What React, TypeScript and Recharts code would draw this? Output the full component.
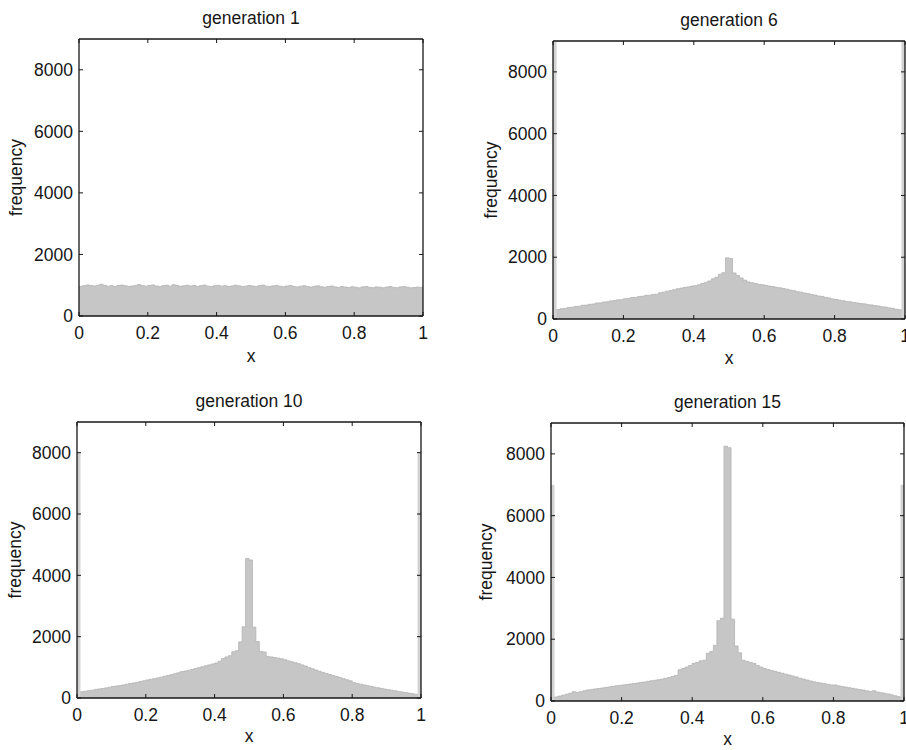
import React from 'react';
import { ComposedChart, Area, XAxis, YAxis } from 'recharts';

const binCount = 100;
const xTicks = [0, 0.2, 0.4, 0.6, 0.8, 1];
const yTicks = [0, 2000, 4000, 6000, 8000];
const titles = ['generation 1', 'generation 6', 'generation 10', 'generation 15'];

// bin counts, 100 bins of width 0.01 on [0, 1]
const gen1 = [
  960, 985, 1010, 990, 975, 1000, 1030, 995, 970, 985,
  955, 990, 1005, 980, 960, 975, 995, 1020, 985, 970,
  990, 1010, 975, 960, 985, 1000, 970, 1015, 990, 965,
  980, 1000, 975, 990, 960, 985, 1005, 970, 955, 980,
  995, 970, 985, 960, 975, 1000, 980, 955, 970, 990,
  975, 960, 985, 1005, 970, 955, 980, 995, 965, 950,
  975, 990, 960, 945, 970, 985, 955, 940, 965, 980,
  950, 935, 960, 975, 945, 930, 955, 940, 925, 950,
  935, 915, 945, 960, 930, 920, 945, 935, 915, 940,
  955, 930, 920, 945, 960, 935, 915, 925, 940, 930,
];

const gen6 = [
  290, 305, 335, 345, 370, 380, 405, 415, 445, 450,
  475, 485, 515, 520, 550, 555, 585, 595, 620, 625,
  655, 665, 695, 700, 725, 735, 765, 770, 795, 805,
  850, 870, 900, 920, 950, 980, 1000, 1025, 1040, 1065,
  1080, 1105, 1150, 1185, 1230, 1300, 1355, 1450, 1500, 1980,
  1960, 1490, 1410, 1330, 1260, 1200, 1175, 1150, 1125, 1110,
  1090, 1065, 1050, 1025, 1010, 985, 965, 935, 915, 885,
  870, 840, 820, 795, 775, 745, 730, 700, 680, 650,
  630, 605, 590, 565, 555, 535, 520, 500, 490, 465,
  455, 435, 420, 395, 385, 360, 345, 315, 300, 275,
];

const gen10 = [
  190, 205, 220, 240, 255, 280, 295, 310, 330, 350,
  375, 390, 405, 425, 450, 470, 490, 510, 540, 560,
  590, 610, 630, 655, 680, 710, 735, 760, 790, 820,
  860, 880, 905, 930, 960, 990, 1020, 1050, 1080, 1110,
  1140, 1200, 1290, 1340, 1380, 1510, 1540, 1830, 2320, 4550,
  4500, 2310, 1840, 1520, 1500, 1350, 1340, 1320, 1300, 1280,
  1250, 1210, 1180, 1150, 1120, 1080, 1040, 990, 950, 910,
  870, 835, 800, 765, 730, 700, 665, 630, 595, 560,
  500, 475, 450, 425, 400, 380, 355, 335, 315, 290,
  270, 255, 235, 215, 195, 180, 160, 140, 120, 95,
];

const gen15 = [
  90, 130, 160, 190, 220, 250, 300, 280, 300, 330,
  360, 375, 390, 405, 420, 440, 455, 470, 490, 505,
  520, 535, 550, 565, 580, 600, 615, 635, 655, 670,
  690, 710, 735, 760, 790, 830, 1010, 1050, 1100, 1150,
  1220, 1250, 1300, 1320, 1545, 1600, 1800, 2600, 2680, 8250,
  8200, 2650, 1780, 1560, 1320, 1280, 1250, 1220, 1150, 1100,
  1050, 1020, 990, 960, 930, 900, 870, 840, 810, 780,
  740, 710, 680, 650, 620, 600, 580, 560, 540, 520,
  520, 490, 470, 450, 430, 410, 390, 370, 355, 330,
  310, 330, 290, 270, 250, 230, 200, 170, 140, 100,
];

// counts piled up exactly at x = 0 and x = 1
const boundaryCounts = [0, 9000, 8000, 7000];

const FONT = '"Liberation Sans", Arial, Helvetica, sans-serif';
const INK = '#161616';
const FS = 17.5;
const edgeWidth = 0.01;

const layout = [
  { left: 0, top: 0, h: 372, x0: 79, x1: 423, y0: 39, y1: 316, labelX: 16, xLabelBase: 362 },
  { left: 453, top: 0, h: 372, x0: 553, x1: 905, y0: 41, y1: 319, labelX: 491, xLabelBase: 364 },
  { left: 0, top: 372, h: 378, x0: 77, x1: 421, y0: 422, y1: 698, labelX: 15, xLabelBase: 742 },
  { left: 453, top: 372, h: 378, x0: 551, x1: 904, y0: 423, y1: 701, labelX: 486, xLabelBase: 745 },
];

function buildRows(counts: number[], boundary: number) {
  const rows: any[] = counts.map((c, i) => ({ x: i / binCount, count: c }));
  rows.push({ x: 1, count: counts[counts.length - 1] });
  if (boundary > 0) {
    rows[0].edge = boundary;
    rows.splice(1, 0, { x: edgeWidth, edge: 0 });
    rows.splice(rows.length - 1, 0, { x: 1 - edgeWidth, edge: boundary });
    rows[rows.length - 1].edge = boundary;
  }
  return rows;
}

const Panel = ({ counts, boundary, title, box }: any) => {
  const W = 453;
  const yAxisW = box.x0 - box.left;
  const margin = {
    left: 0,
    right: box.left + W - box.x1 - 1,
    top: box.y0 - box.top - 1,
    bottom: box.top + box.h - box.y1 - 46,
  };
  const data = buildRows(counts, boundary);
  const axisLine = { stroke: INK, strokeWidth: 1.3 };
  const tickLine = { stroke: INK, strokeWidth: 1 };
  const tick = { fill: INK, fontSize: FS };
  return (
    <div style={{ position: 'absolute', left: box.left, top: box.top }}>
      <ComposedChart width={W} height={box.h} data={data} margin={margin}>
        <Area
          type="stepAfter"
          dataKey="count"
          fill="#c6c6c6"
          fillOpacity={1}
          stroke="#b2b2b2"
          strokeWidth={0.8}
          connectNulls
          isAnimationActive={false}
          dot={false}
          activeDot={false}
        />
        {boundary > 0 && (
          <Area
            type="stepAfter"
            dataKey="edge"
            fill="#d2d2d2"
            fillOpacity={1}
            stroke="none"
            connectNulls
            isAnimationActive={false}
            dot={false}
            activeDot={false}
          />
        )}
        {/* invisible copy so the frame axes (top / right) get a scale */}
        <Area
          xAxisId="top"
          yAxisId="right"
          type="stepAfter"
          dataKey="count"
          fill="none"
          stroke="none"
          connectNulls
          isAnimationActive={false}
          dot={false}
          activeDot={false}
        />
        <XAxis
          dataKey="x"
          type="number"
          domain={[0, 1]}
          ticks={xTicks}
          interval={0}
          allowDataOverflow
          height={46}
          tickSize={-4}
          tickMargin={15}
          axisLine={axisLine}
          tickLine={tickLine}
          tick={tick}
          label={{ value: 'x', position: 'insideBottom', offset: box.y1 + 46 - box.xLabelBase, fill: INK, fontSize: FS }}
        />
        <XAxis
          xAxisId="top"
          dataKey="x"
          orientation="top"
          type="number"
          domain={[0, 1]}
          ticks={xTicks}
          interval={0}
          allowDataOverflow
          height={1}
          tickSize={-4}
          tickFormatter={() => ''}
          axisLine={axisLine}
          tickLine={tickLine}
          label={{ value: title, position: 'top', offset: 14, fill: INK, fontSize: FS }}
        />
        <YAxis
          type="number"
          domain={[0, 9000]}
          ticks={yTicks}
          interval={0}
          allowDataOverflow
          width={yAxisW}
          tickSize={-4}
          tickMargin={10}
          axisLine={axisLine}
          tickLine={tickLine}
          tick={tick}
          label={{
            value: 'frequency',
            angle: -90,
            position: 'insideLeft',
            offset: box.labelX - box.left,
            fill: INK,
            fontSize: FS,
            style: { textAnchor: 'middle' },
          }}
        />
        <YAxis
          yAxisId="right"
          orientation="right"
          type="number"
          domain={[0, 9000]}
          ticks={yTicks}
          interval={0}
          allowDataOverflow
          width={1}
          tickSize={-4}
          tickFormatter={() => ''}
          axisLine={axisLine}
          tickLine={tickLine}
        />
      </ComposedChart>
    </div>
  );
};

const series = [gen1, gen6, gen10, gen15];

export default function App() {
  return (
    <div
      style={{
        position: 'absolute',
        left: 0,
        top: 0,
        width: 906,
        height: 750,
        background: '#fff',
        fontFamily: FONT,
        overflow: 'hidden',
      }}
    >
      {series.map((counts, i) => (
        <Panel key={i} counts={counts} boundary={boundaryCounts[i]} title={titles[i]} box={layout[i]} />
      ))}
    </div>
  );
}
